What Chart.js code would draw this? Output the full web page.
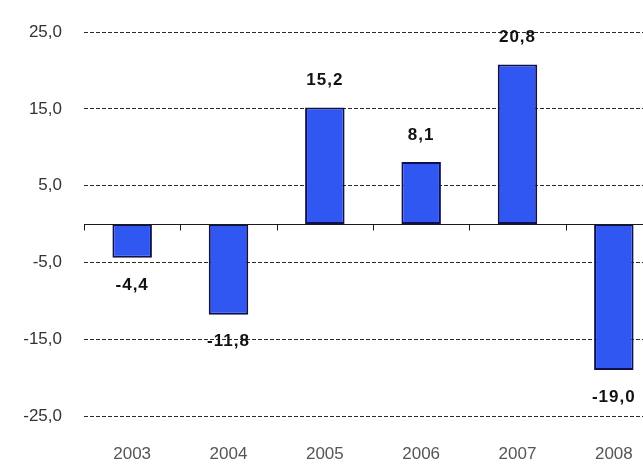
<!DOCTYPE html>
<html>
<head>
<meta charset="utf-8">
<script src="https://cdn.jsdelivr.net/npm/chart.js@4/dist/chart.umd.min.js"></script>
<style>
  html, body { margin: 0; padding: 0; background: #fff; overflow: hidden; }
  #wrap { width: 662px; height: 467px; }
</style>
</head>
<body>
<div id="wrap"><canvas id="myChart" width="662" height="467"></canvas></div>
<script>
const years = ['2003', '2004', '2005', '2006', '2007', '2008'];
const values = [-4.4, -11.8, 15.2, 8.1, 20.8, -19.0];
const yTicks = [-25, -15, -5, 5, 15, 25];

function fmt(v) {
    return v.toFixed(1).replace('.', ',');
}

// zero line with small ticks between the years, plus value labels on each bar
const barExtras = {
    id: 'barExtras',
    afterDatasetsDraw(chart) {
        const ctx = chart.ctx;
        const x = chart.scales.x;
        const y = chart.scales.y;
        const area = chart.chartArea;
        const y0 = Math.round(y.getPixelForValue(0)) + 0.5;
        const step = x.getPixelForValue(1) - x.getPixelForValue(0);

        ctx.save();
        ctx.strokeStyle = '#1a1a1a';
        ctx.lineWidth = 1;
        ctx.beginPath();
        ctx.moveTo(area.left, y0);
        ctx.lineTo(area.right, y0);
        for (let i = 0; i < years.length; i++) {
            const bx = Math.round(x.getPixelForValue(i) - step / 2) + 0.5;
            ctx.moveTo(bx, y0);
            ctx.lineTo(bx, y0 + 6);
        }
        ctx.stroke();

        ctx.fillStyle = '#111';
        ctx.font = 'bold 17px "Liberation Sans", Arial, sans-serif';
        ctx.letterSpacing = '1px';
        ctx.textAlign = 'center';
        ctx.textBaseline = 'middle';
        const meta = chart.getDatasetMeta(0);
        meta.data.forEach((bar, i) => {
            const v = values[i];
            const ly = v >= 0 ? bar.y - 27 : bar.y + 27;
            ctx.fillText(fmt(v), bar.x, ly);
        });
        ctx.restore();
    }
};

const ctx = document.getElementById('myChart').getContext('2d');
window.myChart = new Chart(ctx, {
    type: 'bar',
    data: {
        labels: years,
        datasets: [{
            data: values,
            backgroundColor: '#3157f2',
            borderColor: '#10104e',
            borderWidth: 2,
            borderSkipped: false,
            categoryPercentage: 1,
            barPercentage: 0.41
        }]
    },
    options: {
        responsive: false,
        animation: false,
        devicePixelRatio: 1,
        layout: { padding: { top: 30, right: 0, left: 0, bottom: 0 } },
        plugins: {
            legend: { display: false },
            tooltip: { enabled: false }
        },
        scales: {
            x: {
                grid: { display: false, drawTicks: false },
                border: { display: false },
                ticks: {
                    padding: 28,
                    color: '#555',
                    font: { family: '"Liberation Sans", Arial, sans-serif', size: 17 }
                },
                afterFit(scale) { scale.height = 51; }
            },
            y: {
                min: -25,
                max: 25,
                afterBuildTicks(scale) {
                    scale.ticks = yTicks.map(v => ({ value: v }));
                },
                grid: {
                    drawTicks: false,
                    color: '#2a2a2a',
                    lineWidth: 1
                },
                border: { display: false, dash: [4, 2] },
                ticks: {
                    padding: 22,
                    color: '#333',
                    font: { family: '"Liberation Sans", Arial, sans-serif', size: 17 },
                    callback: v => fmt(v)
                },
                afterFit(scale) { scale.width = 84; }
            }
        }
    },
    plugins: [barExtras]
});
</script>
</body>
</html>
